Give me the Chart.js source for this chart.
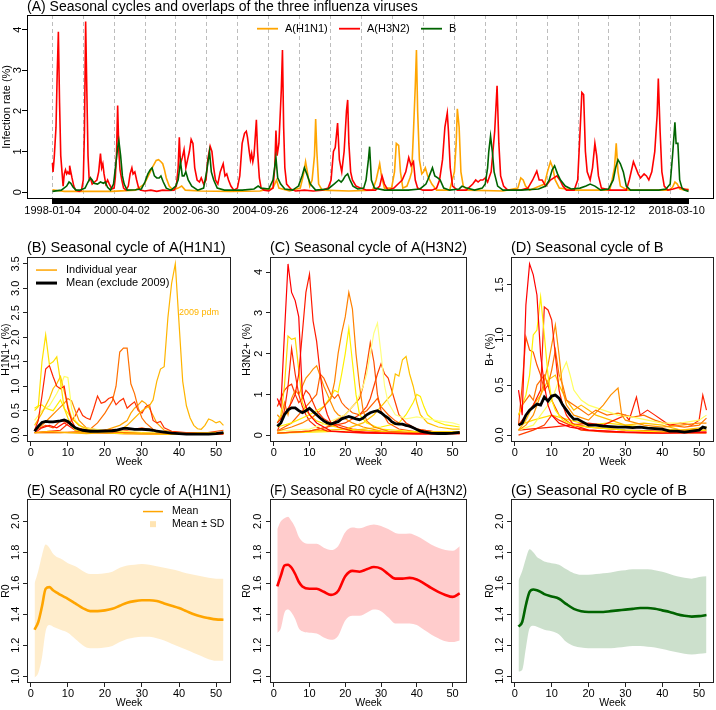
<!DOCTYPE html>
<html><head><meta charset="utf-8">
<script src="https://cdn.jsdelivr.net/npm/chart.js@4.4.1/dist/chart.umd.min.js"></script>
<style>
html,body{margin:0;padding:0;background:#fff;}
#wrap{position:relative;width:716px;height:710px;overflow:hidden;background:#fff;}
canvas{position:absolute;}
</style></head><body>
<div id="wrap">
<canvas id="cA" width="716" height="222" style="left:0px;top:0px"></canvas>
<canvas id="cB" width="238" height="228" style="left:0px;top:240px"></canvas>
<canvas id="cC" width="232" height="228" style="left:241px;top:240px"></canvas>
<canvas id="cD" width="232" height="228" style="left:484px;top:240px"></canvas>
<canvas id="cE" width="238" height="226" style="left:0px;top:483px"></canvas>
<canvas id="cF" width="232" height="226" style="left:241px;top:483px"></canvas>
<canvas id="cG" width="232" height="226" style="left:484px;top:483px"></canvas>
</div>
<script>
// ================= DATA =================
// ---- Panel A: weekly infection rate, [week since 1998-01-04, %] ----
const seriesNamesA = ['A(H1N1)', 'A(H3N2)', 'B'];
const dateLabelsA = ['1998-01-04','2000-04-02','2002-06-30','2004-09-26','2006-12-24','2009-03-22','2011-06-19','2013-09-15','2015-12-12','2018-03-10'];
const yearStartsA = [1998,1999,2000,2001,2002,2003,2004,2005,2006,2007,2008,2009,2010,2011,2012,2013,2014,2015,2016,2017,2018];
const yTicksA = [0,1,2,3,4];
const h1n1A = [[0,0.06],[8,0.04],[20,0.02],[60,0.02],[100,0.02],[140,0.05],[155,0.2],[160,0.35],[165,0.5],[170,0.65],[175,0.78],[179,0.8],[183,0.75],[186,0.7],[189,0.55],[192,0.35],[197,0.15],[203,0.05],[212,0.1],[218,0.15],[224,0.05],[250,0.03],[300,0.02],[350,0.03],[372,0.1],[378,0.3],[382,0.1],[400,0.03],[418,0.1],[423,0.4],[427,0.75],[430,0.5],[434,0.15],[438,0.3],[442,0.9],[444,1.8],[446,1.0],[449,0.2],[455,0.05],[500,0.03],[540,0.05],[546,0.3],[552,0.7],[555,0.4],[560,0.1],[572,0.1],[577,0.5],[580,1.2],[584,1.15],[587,0.5],[591,0.1],[598,0.15],[603,0.35],[606,0.5],[609,1.5],[612,2.6],[614,3.5],[616,2.0],[619,0.8],[623,0.45],[626,0.5],[629,0.6],[633,0.4],[640,0.2],[648,0.05],[670,0.05],[678,0.5],[681,1.2],[683,2.05],[686,1.6],[689,0.5],[693,0.15],[700,0.05],[760,0.03],[785,0.1],[790,0.35],[794,0.3],[798,0.15],[805,0.05],[830,0.2],[835,0.5],[840,0.75],[844,0.6],[848,0.3],[855,0.1],[880,0.05],[940,0.05],[944,0.3],[948,0.6],[951,1.2],[954,0.5],[958,0.15],[970,0.05],[1000,0.05],[1040,0.05],[1046,0.12],[1050,0.25],[1054,0.2],[1058,0.08],[1066,0.05],[1073,0.08]];
const h3n2A = [[0,0.72],[1,0.5],[3,0.85],[6,1.6],[8,2.9],[10,3.95],[12,2.2],[14,0.9],[18,0.15],[20,0.45],[22,0.55],[24,0.45],[26,0.5],[28,0.45],[29,0.65],[31,0.5],[33,0.35],[36,0.15],[39,0.05],[45,0.02],[49,0.05],[52,0.3],[54,1.5],[56,4.2],[58,2.5],[60,0.9],[62,0.3],[64,0.35],[67,0.2],[71,0.25],[75,0.3],[78,0.5],[81,0.95],[83,0.6],[85,0.7],[87,0.45],[90,0.2],[93,0.3],[96,0.2],[100,0.08],[104,0.1],[106,0.35],[108,0.9],[110,2.13],[112,1.0],[114,0.55],[117,0.3],[120,0.1],[124,0.05],[128,0.15],[131,0.45],[134,0.6],[136,0.45],[139,0.5],[142,0.3],[145,0.12],[148,0.05],[156,0.03],[166,0.05],[176,0.02],[186,0.05],[196,0.04],[205,0.05],[209,0.15],[212,0.6],[214,1.35],[216,0.7],[219,0.85],[222,1.05],[225,0.6],[228,0.8],[231,1.0],[234,1.3],[237,1.2],[240,0.6],[244,0.3],[248,0.25],[251,0.35],[255,0.2],[259,0.3],[262,0.8],[266,1.13],[269,1.0],[272,0.6],[275,0.3],[279,0.2],[283,0.5],[288,0.7],[291,0.4],[294,0.45],[297,0.3],[301,0.15],[306,0.05],[312,0.1],[316,0.4],[320,1.2],[324,1.45],[327,1.5],[329,1.35],[332,1.0],[334,0.8],[336,0.95],[338,0.75],[340,0.9],[344,1.78],[346,1.0],[349,0.35],[352,0.1],[357,0.05],[365,0.03],[372,0.1],[375,0.6],[377,1.52],[379,0.9],[382,1.2],[386,2.5],[388,3.5],[390,1.6],[392,0.6],[395,0.2],[402,0.08],[410,0.03],[425,0.05],[440,0.03],[455,0.05],[465,0.1],[470,0.3],[474,1.0],[477,1.1],[481,1.7],[484,0.8],[488,0.5],[492,1.0],[496,2.0],[498,2.27],[500,1.2],[503,0.5],[506,0.3],[512,0.15],[520,0.1],[530,0.05],[545,0.05],[552,0.15],[556,0.4],[560,0.2],[566,0.05],[576,0.1],[583,0.2],[590,0.3],[596,0.5],[601,0.85],[605,0.65],[609,0.75],[612,0.3],[616,0.1],[625,0.05],[640,0.05],[648,0.1],[653,0.3],[658,0.8],[662,1.6],[666,1.95],[668,1.5],[671,0.6],[675,0.15],[683,0.05],[698,0.05],[709,0.2],[714,0.3],[718,0.25],[722,0.3],[726,0.3],[730,0.35],[734,0.25],[740,0.5],[746,1.5],[750,2.62],[753,1.2],[756,0.4],[761,0.15],[768,0.05],[790,0.05],[802,0.1],[810,0.3],[817,0.52],[821,0.3],[826,0.3],[832,0.15],[840,0.3],[851,0.4],[856,0.3],[861,0.15],[867,0.05],[880,0.05],[886,0.3],[890,1.5],[893,2.45],[896,2.4],[899,1.0],[902,0.5],[907,0.3],[911,0.6],[915,1.2],[918,0.9],[921,0.4],[926,0.1],[940,0.05],[955,0.05],[968,0.05],[973,0.3],[980,0.75],[984,0.6],[988,0.45],[992,0.35],[998,0.45],[1002,0.4],[1006,0.3],[1011,0.5],[1016,1.0],[1020,1.9],[1022,2.8],[1025,1.5],[1028,0.5],[1032,0.15],[1038,0.05],[1047,0.08],[1057,0.12],[1066,0.08],[1073,0.05]];
const fluBA = [[0,0.02],[15,0.05],[24,0.15],[28,0.25],[31,0.22],[35,0.12],[40,0.05],[46,0.05],[55,0.1],[60,0.25],[64,0.35],[67,0.3],[70,0.22],[76,0.2],[81,0.25],[86,0.22],[89,0.25],[93,0.12],[98,0.05],[103,0.2],[107,0.7],[110,1.1],[112,1.27],[115,0.9],[118,0.4],[121,0.2],[126,0.05],[140,0.06],[150,0.08],[156,0.25],[161,0.45],[165,0.55],[168,0.6],[172,0.4],[176,0.35],[180,0.35],[183,0.4],[187,0.25],[192,0.1],[200,0.05],[208,0.15],[212,0.3],[216,0.75],[219,0.4],[222,0.4],[225,0.5],[229,0.3],[235,0.15],[245,0.05],[255,0.1],[260,0.5],[265,1.0],[268,0.5],[272,0.3],[278,0.1],[290,0.05],[320,0.05],[340,0.08],[347,0.15],[352,0.1],[365,0.08],[372,0.3],[377,0.85],[380,0.35],[385,0.2],[392,0.08],[405,0.05],[415,0.15],[421,0.4],[425,0.6],[429,0.45],[435,0.2],[444,0.05],[465,0.08],[475,0.2],[483,0.3],[487,0.25],[490,0.3],[494,0.4],[498,0.45],[502,0.3],[507,0.15],[515,0.08],[525,0.1],[529,0.3],[533,0.8],[535,1.12],[538,0.3],[543,0.1],[560,0.05],[600,0.05],[620,0.08],[630,0.2],[633,0.3],[637,0.45],[641,0.6],[645,0.4],[650,0.35],[654,0.3],[660,0.1],[670,0.05],[686,0.08],[691,0.15],[699,0.1],[712,0.05],[725,0.1],[730,0.2],[734,0.6],[736,1.0],[739,1.38],[742,1.0],[745,0.5],[751,0.15],[760,0.05],[790,0.05],[820,0.08],[832,0.15],[838,0.3],[843,0.55],[847,0.65],[852,0.45],[857,0.3],[865,0.15],[875,0.08],[890,0.1],[900,0.15],[907,0.2],[915,0.15],[925,0.05],[938,0.08],[946,0.3],[950,0.6],[954,0.8],[958,0.7],[963,0.5],[968,0.15],[975,0.05],[990,0.05],[1010,0.05],[1023,0.05],[1035,0.08],[1042,0.2],[1046,0.9],[1050,1.72],[1052,1.2],[1055,1.2],[1058,0.3],[1062,0.1],[1066,0.05],[1073,0.02]];

// ---- Seasonal panels: common ----
const weekTicks = [0,10,20,30,40,50];
const weekAxisTitle = 'Week';

// ---- Panel B: A(H1N1) by year, [week, %] ----
const legendLabelsB = ['Individual year', 'Mean (exclude 2009)'];
const pdmNoteB = {text:'2009 pdm', week:40, value:2.5};
const yTicksB = [0,0.5,1,1.5,2,2.5,3,3.5];
const h1n1YearsB = [
 [[1,0.05],[5,0.08],[10,0.05],[15,0.03],[20,0.05],[24,0.1],[26,0.2],[28,0.35],[30,0.5],[32,0.6],[33,0.72],[34,1.1],[35,1.35],[36,1.4],[37,2.4],[38,3.1],[39,3.5],[40,2.3],[41,1.1],[42,0.6],[43,0.35],[44,0.2],[45,0.13],[46,0.12],[47,0.2],[48,0.33],[49,0.3],[50,0.25],[51,0.28],[52,0.2]],
 [[1,0.5],[2,0.58],[3,1.5],[4,2.05],[5,1.45],[6,1.5],[7,1.6],[8,1.1],[9,0.55],[10,0.35],[11,0.2],[12,0.1],[14,0.08],[18,0.05],[25,0.03],[35,0.02],[45,0.02],[52,0.05]],
 [[1,0.1],[2,0.3],[3,0.8],[4,1.35],[5,1.42],[6,1.2],[7,1.0],[8,0.95],[9,1.0],[10,0.55],[11,0.3],[12,0.15],[14,0.08],[20,0.05],[30,0.03],[40,0.02],[52,0.03]],
 [[1,0.2],[3,0.45],[5,0.75],[6,0.95],[7,1.05],[8,1.2],[9,0.9],[10,0.6],[11,0.35],[13,0.2],[16,0.1],[25,0.05],[40,0.02],[52,0.05]],
 [[1,0.3],[3,0.5],[5,0.6],[7,0.85],[8,1.0],[9,1.2],[10,1.18],[11,0.55],[12,0.3],[14,0.15],[20,0.1],[30,0.05],[45,0.03],[52,0.05]],
 [[1,0.1],[3,0.2],[5,0.35],[7,0.5],[9,0.65],[10,0.75],[11,0.7],[12,0.5],[13,0.3],[15,0.15],[20,0.08],[30,0.05],[45,0.02],[52,0.04]],
 [[1,0.05],[8,0.05],[14,0.08],[16,0.12],[18,0.25],[20,0.45],[22,0.7],[23,1.0],[24,1.7],[25,1.78],[26,1.78],[27,1.05],[28,0.85],[29,0.55],[30,0.35],[31,0.25],[33,0.12],[36,0.05],[45,0.02],[52,0.03]],
 [[1,0.05],[8,0.1],[11,0.3],[12,0.4],[13,0.55],[14,0.4],[15,0.35],[16,0.32],[17,0.55],[18,0.8],[19,0.65],[20,0.68],[21,0.75],[22,0.78],[23,0.62],[24,0.7],[25,0.75],[26,0.55],[27,0.62],[28,0.68],[29,0.5],[30,0.45],[31,0.58],[32,0.62],[33,0.3],[34,0.25],[35,0.28],[36,0.15],[38,0.08],[45,0.03],[52,0.05]],
 [[1,0.05],[15,0.05],[20,0.1],[24,0.2],[26,0.3],[27,0.45],[28,0.55],[29,0.62],[30,0.7],[31,0.65],[32,0.55],[33,0.4],[34,0.25],[36,0.1],[40,0.05],[52,0.05]],
 [[1,0.05],[3,0.15],[5,0.2],[7,0.15],[9,0.25],[10,0.2],[12,0.1],[15,0.05],[25,0.03],[40,0.02],[52,0.02]],
 [[1,0.55],[2,0.6],[3,0.62],[4,0.55],[6,0.5],[8,0.72],[9,0.55],[11,0.35],[13,0.2],[16,0.1],[25,0.05],[40,0.02],[52,0.03]],
 [[1,0.1],[4,0.2],[6,0.15],[8,0.3],[10,0.25],[12,0.15],[15,0.12],[18,0.1],[22,0.12],[26,0.1],[30,0.15],[33,0.1],[36,0.05],[45,0.02],[52,0.1]]
];
const h1n1MeanB = [[1,0.08],[2,0.18],[3,0.26],[4,0.28],[5,0.27],[6,0.27],[7,0.28],[8,0.29],[9,0.31],[10,0.28],[11,0.21],[12,0.15],[13,0.12],[14,0.1],[15,0.09],[16,0.08],[18,0.08],[20,0.085],[22,0.09],[23,0.1],[24,0.12],[25,0.14],[26,0.14],[27,0.13],[28,0.12],[30,0.12],[32,0.11],[33,0.1],[34,0.08],[36,0.06],[38,0.04],[40,0.03],[42,0.02],[45,0.02],[48,0.02],[50,0.03],[51,0.04],[52,0.05]];

// ---- Panel C: A(H3N2) by year ----
const yTicksC = [0,1,2,3,4];
const h3n2YearsC = [
 [[1,0.9],[2,0.7],[3,2.5],[4,4.2],[5,3.5],[6,3.3],[7,2.9],[8,1.0],[9,0.7],[10,0.5],[11,0.4],[12,0.3],[14,0.2],[16,0.1],[20,0.08],[30,0.05],[40,0.03],[52,0.05]],
 [[1,0.3],[3,0.5],[5,0.8],[6,1.0],[7,1.5],[8,2.5],[9,3.5],[10,3.95],[11,2.8],[12,2.3],[13,1.5],[14,0.8],[15,0.5],[16,0.3],[18,0.2],[22,0.1],[30,0.05],[45,0.03],[52,0.05]],
 [[1,0.1],[5,0.2],[8,0.3],[11,0.45],[13,0.6],[15,0.8],[16,0.9],[17,1.3],[18,2.0],[19,2.5],[20,2.9],[21,3.5],[22,3.1],[23,2.0],[24,1.2],[25,0.6],[26,0.35],[28,0.2],[32,0.1],[40,0.05],[52,0.05]],
 [[1,0.2],[5,0.3],[10,0.5],[14,0.7],[16,0.95],[17,1.1],[18,1.05],[19,1.5],[20,2.0],[21,2.62],[22,1.8],[23,1.0],[24,0.5],[26,0.3],[30,0.15],[40,0.08],[52,0.08]],
 [[1,0.1],[10,0.15],[15,0.3],[20,0.5],[23,0.8],[25,1.2],[26,1.5],[27,2.0],[28,2.5],[29,2.75],[30,2.0],[31,1.2],[32,0.8],[34,0.5],[37,0.4],[40,0.45],[43,0.4],[46,0.35],[50,0.3],[52,0.25]],
 [[1,0.05],[10,0.1],[15,0.2],[18,0.4],[20,0.5],[22,0.7],[24,0.9],[25,1.2],[26,1.7],[27,2.27],[28,1.8],[29,1.0],[30,0.6],[32,0.3],[35,0.15],[40,0.08],[52,0.05]],
 [[1,0.3],[2,0.5],[3,1.2],[4,2.43],[5,2.35],[6,2.38],[7,1.6],[8,0.8],[9,0.6],[10,0.5],[12,0.35],[15,0.25],[20,0.15],[30,0.1],[40,0.05],[52,0.05]],
 [[1,0.1],[2,0.3],[3,0.6],[4,1.2],[5,2.12],[6,1.5],[7,1.0],[8,0.7],[9,0.5],[10,0.35],[12,0.2],[15,0.1],[25,0.05],[40,0.03],[52,0.03]],
 [[1,0.05],[10,0.1],[20,0.15],[25,0.3],[28,0.5],[30,0.7],[32,0.9],[33,1.0],[34,1.5],[35,1.45],[36,1.85],[37,1.93],[38,1.5],[39,1.2],[40,0.8],[41,0.5],[43,0.3],[46,0.2],[50,0.15],[52,0.15]],
 [[1,0.5],[2,0.4],[3,0.8],[4,0.5],[5,0.9],[6,1.1],[7,1.0],[8,1.2],[9,1.4],[10,1.5],[11,1.62],[12,1.7],[13,1.45],[14,1.2],[15,1.0],[16,0.8],[17,0.6],[18,0.5],[20,0.4],[22,0.3],[25,0.2],[30,0.1],[40,0.05],[52,0.05]],
 [[1,0.05],[10,0.1],[15,0.2],[20,0.3],[24,0.5],[26,0.7],[27,0.9],[28,1.2],[29,1.5],[30,1.75],[31,1.5],[32,1.4],[33,1.1],[34,0.8],[35,0.5],[37,0.3],[40,0.15],[45,0.08],[52,0.05]],
 [[1,0.7],[2,0.9],[3,1.1],[4,1.2],[5,1.25],[6,1.0],[7,0.8],[8,0.9],[9,1.1],[10,1.0],[11,0.8],[12,0.6],[13,0.5],[14,0.4],[16,0.3],[18,0.25],[22,0.15],[30,0.08],[40,0.05],[52,0.05]],
 [[1,0.1],[5,0.3],[8,0.6],[10,0.8],[12,1.0],[13,1.5],[14,1.4],[15,1.2],[16,1.0],[17,0.9],[18,1.0],[19,0.8],[20,0.7],[22,0.55],[24,0.5],[26,0.6],[28,0.8],[29,0.9],[30,0.7],[32,0.5],[34,0.35],[36,0.25],[40,0.15],[45,0.08],[52,0.08]],
 [[1,0.05],[20,0.1],[30,0.2],[35,0.3],[37,0.5],[39,0.8],[40,1.0],[41,0.95],[42,0.7],[43,0.5],[45,0.35],[48,0.25],[52,0.2]]
];
const h3n2MeanC = [[1,0.22],[2,0.3],[3,0.5],[4,0.62],[5,0.67],[6,0.67],[7,0.6],[8,0.55],[9,0.6],[10,0.66],[11,0.58],[12,0.5],[13,0.42],[14,0.35],[15,0.3],[16,0.27],[17,0.3],[18,0.33],[19,0.4],[20,0.43],[21,0.46],[22,0.43],[23,0.4],[24,0.38],[25,0.42],[26,0.5],[27,0.55],[28,0.58],[29,0.6],[30,0.55],[31,0.48],[32,0.42],[33,0.33],[34,0.28],[35,0.27],[36,0.27],[37,0.24],[38,0.22],[39,0.18],[40,0.14],[41,0.1],[42,0.08],[44,0.05],[46,0.04],[48,0.04],[50,0.05],[52,0.07]];

// ---- Panel D: B by year ----
const yTicksD = [0,0.5,1,1.5];
const fluBYearsD = [
 [[1,0.45],[2,0.2],[3,1.3],[4,1.71],[5,1.6],[6,1.4],[7,0.8],[8,0.5],[9,0.3],[10,0.2],[12,0.12],[15,0.08],[20,0.05],[30,0.03],[40,0.02],[52,0.03]],
 [[1,0.2],[3,0.4],[4,0.6],[5,1.0],[6,1.05],[7,1.38],[8,1.0],[9,0.6],[10,0.35],[11,0.25],[13,0.15],[16,0.1],[20,0.08],[30,0.05],[40,0.03],[52,0.05]],
 [[1,0.1],[3,0.2],[5,0.3],[7,0.45],[8,1.28],[9,1.25],[10,1.15],[11,0.8],[12,0.45],[13,0.3],[14,0.2],[16,0.1],[20,0.05],[30,0.03],[52,0.03]],
 [[1,0.05],[3,0.1],[5,0.2],[7,0.4],[8,0.55],[9,0.7],[10,0.9],[11,1.1],[12,0.8],[13,0.45],[14,0.3],[16,0.2],[20,0.15],[24,0.3],[26,0.4],[28,0.47],[29,0.2],[30,0.15],[35,0.1],[40,0.08],[45,0.1],[50,0.12],[52,0.12]],
 [[1,0.1],[2,0.5],[3,0.98],[4,0.85],[5,0.83],[6,0.7],[7,0.6],[8,0.45],[9,0.5],[10,0.35],[12,0.2],[15,0.12],[20,0.08],[30,0.05],[40,0.04],[52,0.05]],
 [[1,0.05],[5,0.1],[8,0.25],[10,0.35],[12,0.55],[13,0.65],[14,0.73],[15,0.6],[16,0.45],[18,0.35],[20,0.3],[24,0.25],[28,0.2],[32,0.18],[36,0.15],[40,0.12],[45,0.12],[50,0.15],[52,0.2]],
 [[1,0.05],[10,0.08],[15,0.1],[20,0.12],[24,0.1],[27,0.15],[30,0.2],[31,0.15],[33,0.38],[34,0.2],[36,0.25],[38,0.2],[40,0.15],[42,0.1],[45,0.12],[48,0.1],[50,0.15],[51,0.4],[52,0.25]],
 [[1,0.2],[2,0.3],[4,0.4],[5,0.35],[6,0.5],[7,0.55],[8,0.6],[9,0.5],[10,0.65],[11,0.85],[12,0.6],[13,0.5],[14,0.35],[16,0.3],[18,0.25],[20,0.2],[22,0.25],[25,0.2],[28,0.22],[32,0.18],[35,0.2],[38,0.15],[42,0.1],[46,0.08],[50,0.1],[52,0.17]],
 [[1,0.05],[3,0.15],[5,0.3],[7,0.4],[9,0.55],[11,0.6],[12,0.5],[14,0.35],[16,0.25],[18,0.3],[20,0.25],[22,0.2],[26,0.15],[30,0.1],[35,0.12],[40,0.1],[45,0.05],[52,0.08]],
 [[1,0.0],[5,0.05],[8,0.1],[10,0.2],[12,0.15],[15,0.1],[18,0.05],[25,0.03],[35,0.02],[52,0.02]],
 [[1,0.1],[5,0.15],[10,0.2],[15,0.15],[20,0.1],[25,0.12],[30,0.1],[35,0.08],[40,0.06],[45,0.05],[50,0.06],[52,0.08]]
];
const fluBMeanD = [[1,0.1],[2,0.12],[3,0.2],[4,0.25],[5,0.28],[6,0.31],[7,0.3],[8,0.38],[9,0.34],[10,0.39],[11,0.4],[12,0.37],[13,0.3],[14,0.25],[15,0.2],[16,0.16],[17,0.16],[18,0.14],[19,0.12],[20,0.1],[22,0.1],[24,0.09],[26,0.085],[28,0.08],[30,0.08],[32,0.075],[34,0.08],[36,0.07],[38,0.065],[40,0.06],[42,0.04],[44,0.04],[46,0.03],[48,0.04],[50,0.05],[51,0.08],[52,0.07]];

// ---- Panels E-G: seasonal R0 ----
const legendLabelsE = ['Mean', 'Mean \u00b1 SD'];
const yTicksR0 = [1.0,1.2,1.4,1.6,1.8,2.0];
const weeksR0 = [1,2,3,4,5,6,7,8,10,12,14,16,18,20,22,24,26,28,30,32,34,36,38,40,42,44,46,48,50,52];
const h1n1R0Mean = [1.30,1.35,1.45,1.565,1.575,1.555,1.54,1.525,1.50,1.47,1.44,1.42,1.42,1.425,1.435,1.455,1.475,1.485,1.49,1.49,1.485,1.47,1.455,1.44,1.42,1.40,1.385,1.375,1.367,1.365];
const h1n1R0Upper = [1.60,1.68,1.78,1.85,1.83,1.79,1.77,1.76,1.73,1.71,1.68,1.66,1.66,1.665,1.675,1.70,1.715,1.72,1.725,1.72,1.71,1.70,1.69,1.68,1.665,1.655,1.645,1.635,1.63,1.63];
const h1n1R0Lower = [0.99,1.02,1.12,1.29,1.33,1.32,1.31,1.30,1.28,1.24,1.20,1.18,1.18,1.185,1.195,1.22,1.24,1.25,1.255,1.255,1.245,1.23,1.21,1.19,1.17,1.15,1.13,1.11,1.10,1.10];
const h3n2R0Mean = [1.58,1.65,1.715,1.72,1.70,1.66,1.61,1.58,1.565,1.565,1.545,1.525,1.55,1.645,1.68,1.675,1.69,1.705,1.695,1.66,1.63,1.63,1.635,1.625,1.60,1.57,1.545,1.525,1.512,1.535];
const h3n2R0Upper = [1.95,2.0,2.02,2.03,2.0,1.96,1.90,1.87,1.855,1.855,1.83,1.815,1.84,1.93,1.96,1.955,1.97,1.98,1.97,1.95,1.925,1.92,1.922,1.905,1.88,1.85,1.83,1.815,1.81,1.84];
const h3n2R0Lower = [1.28,1.31,1.41,1.43,1.41,1.37,1.31,1.29,1.28,1.275,1.25,1.235,1.26,1.36,1.39,1.39,1.41,1.43,1.42,1.38,1.34,1.34,1.34,1.33,1.30,1.27,1.245,1.225,1.22,1.23];
const fluBR0Mean = [1.32,1.35,1.46,1.545,1.56,1.555,1.545,1.53,1.515,1.50,1.465,1.435,1.42,1.415,1.415,1.415,1.42,1.425,1.43,1.435,1.44,1.44,1.435,1.425,1.415,1.40,1.39,1.385,1.388,1.395];
const fluBR0Upper = [1.62,1.68,1.76,1.82,1.80,1.77,1.755,1.74,1.73,1.72,1.69,1.665,1.655,1.655,1.66,1.665,1.67,1.68,1.685,1.69,1.69,1.69,1.685,1.675,1.66,1.645,1.635,1.63,1.64,1.645];
const fluBR0Lower = [1.03,1.04,1.18,1.31,1.325,1.32,1.31,1.30,1.29,1.27,1.22,1.195,1.185,1.18,1.18,1.18,1.18,1.185,1.19,1.195,1.195,1.19,1.185,1.175,1.165,1.155,1.145,1.14,1.145,1.15];

// ================= STYLE / BUILD =================
const FONT = "'Liberation Sans', Arial, Helvetica, sans-serif";
const paletteB = ['#FFB400','#FFE000','#FF2000','#FFC000','#FFFF60','#FF8C00','#FF7000','#FF3000','#FFA500','#FF1000','#FFF000','#FF5000'];
const paletteC = ['#FF0000','#FF1A00','#FF8000','#FFF000','#FFFF80','#FF5000','#FFD700','#FF2800','#FFC000','#FF9000','#FF4000','#FF3300','#FF6000','#FFEE00'];
const paletteD = ['#FF0000','#FFF000','#FF1E00','#FF9000','#FF5000','#FFFF60','#FF2000','#FF7000','#FFC000','#FF4000','#FFE000'];

const toXY = arr => arr.map(p => ({x: p[0], y: p[1]}));

function framePlugin(color) {
  return { id: 'frame', afterDatasetsDraw(chart) {
    const a = chart.chartArea, ctx = chart.ctx;
    const l = Math.round(a.left) + 0.5, t = Math.round(a.top) + 0.5;
    const r = Math.round(a.right) - 0.5, b = Math.round(a.bottom) - 0.5;
    ctx.save(); ctx.strokeStyle = color; ctx.lineWidth = 1;
    ctx.strokeRect(l, t, r - l, b - t); ctx.restore();
  }};
}
function legendPlugin(items, o) {
  return { id: 'insideLegend', afterDatasetsDraw(chart) {
    const a = chart.chartArea, ctx = chart.ctx;
    ctx.save();
    ctx.font = o.size + 'px ' + FONT; ctx.textBaseline = 'middle'; ctx.textAlign = 'left';
    items.forEach((it, i) => {
      const x = a.left + o.x + (o.dx || 0) * i;
      const y = a.top + o.y + (o.dy || 0) * i;
      if (it.kind === 'square') {
        ctx.fillStyle = it.color;
        ctx.fillRect(x + o.len / 2 - o.box / 2, y - o.box / 2, o.box, o.box);
      } else {
        ctx.strokeStyle = it.color; ctx.lineWidth = it.width;
        ctx.beginPath(); ctx.moveTo(x, y); ctx.lineTo(x + o.len, y); ctx.stroke();
      }
      ctx.fillStyle = '#000';
      ctx.fillText(it.text, x + o.len + o.gap, y);
    });
    ctx.restore();
  }};
}
function notePlugin(note, color, size) {
  return { id: 'note', afterDatasetsDraw(chart) {
    const ctx = chart.ctx;
    const x = chart.scales.x.getPixelForValue(note.week);
    const y = chart.scales.y.getPixelForValue(note.value);
    ctx.save(); ctx.font = size + 'px ' + FONT; ctx.fillStyle = color;
    ctx.textAlign = 'left'; ctx.textBaseline = 'middle';
    ctx.fillText(note.text, x, y); ctx.restore();
  }};
}

const tickFont = {family: FONT, size: 11};
const axisTitleFont = {family: FONT, size: 10.5};

// ---------- Panel A ----------
(function () {
  const weekMs = 7 * 864e5;
  const origin = Date.parse(dateLabelsA[0]);
  const labelWeeks = dateLabelsA.map(s => Math.round((Date.parse(s) - origin) / weekMs));
  const yearWeeks = yearStartsA.map(y => (Date.UTC(y, 0, 1) - origin) / weekMs);
  const lastWeek = Math.max(...h3n2A.map(p => p[0]));
  const allWeeks = [];
  for (let w = 0; w <= lastWeek; w++) allWeeks.push(w);
  const span = lastWeek * 0.04;
  const colorsA = ['#FFA500', '#FF0000', '#006400'];
  const seriesA = [h1n1A, h3n2A, fluBA];
  const ymaxA = 4.2 * 1.04, yminA = -4.2 * 0.04;
  new Chart(document.getElementById('cA'), {
    type: 'line',
    data: { datasets: seriesA.map((s, i) => ({
      label: seriesNamesA[i], data: toXY(s), borderColor: colorsA[i], borderWidth: 1.6,
      pointRadius: 0, fill: false, tension: 0, order: 3 - i })) },
    options: {
      responsive: false, animation: false, events: [],
      layout: { padding: { left: 0, right: 2, top: 0, bottom: 0 } },
      plugins: {
        legend: { display: false }, tooltip: { enabled: false },
        title: { display: true, text: '(A) Seasonal cycles and overlaps of the three influenza viruses',
          align: 'start', fullSize: false, color: '#000',
          font: { family: FONT, size: 14, weight: 'normal', lineHeight: 1.05 }, padding: { top: 0, bottom: 0 } }
      },
      scales: {
        x: { type: 'linear', bounds: 'data', position: 'bottom', min: -span, max: lastWeek + span,
          afterBuildTicks: s => { s.ticks = allWeeks.map(v => ({ value: v })); },
          afterFit: s => { s.height = 23; },
          grid: { display: true, drawOnChartArea: false, drawTicks: true, tickLength: 5, color: '#000', lineWidth: 1 },
          border: { display: false },
          ticks: { autoSkip: false, maxRotation: 0, minRotation: 0, padding: 0, color: '#000',
            font: { family: FONT, size: 11 },
            callback: v => { const i = labelWeeks.indexOf(v); return i >= 0 ? dateLabelsA[i] : ''; } } },
        xYear: { type: 'linear', bounds: 'data', position: 'top', min: -span, max: lastWeek + span,
          afterBuildTicks: s => { s.ticks = yearWeeks.map(v => ({ value: v })); },
          afterFit: s => { s.height = 0; },
          grid: { display: true, drawOnChartArea: true, drawTicks: false, color: '#BDBDBD', lineWidth: 1, borderDash: [4, 3] },
          border: { display: false, dash: [4, 3] },
          ticks: { display: false } },
        y: { type: 'linear', bounds: 'data', min: yminA, max: ymaxA,
          afterBuildTicks: s => { s.ticks = yTicksA.map(v => ({ value: v })); },
          afterFit: s => { s.width = 27; },
          grid: { display: true, drawOnChartArea: false, drawTicks: true, tickLength: 5, color: '#000', lineWidth: 1 },
          border: { display: false },
          ticks: { autoSkip: false, minRotation: 90, maxRotation: 90, crossAlign: 'center', padding: 0.6,
            color: '#000', font: { family: FONT, size: 11 }, callback: v => String(v) },
          title: { display: true, text: 'Infection rate (%)', color: '#000', font: { family: FONT, size: 11 }, padding: { top: 0, bottom: 0 } } }
      }
    },
    plugins: [framePlugin('#000'),
      legendPlugin(seriesNamesA.map((t, i) => ({ text: t, color: colorsA[i], width: 1.8 })),
        { x: 230, y: 14, dx: 82, len: 21, gap: 7, size: 11 })]
  });
})();

// ---------- Seasonal panels ----------
function seasonalChart(id, cfg) {
  const pad = (cfg.yMax - cfg.yMin) * 0.04;
  return new Chart(document.getElementById(id), {
    type: 'line',
    data: { datasets: cfg.datasets },
    options: {
      responsive: false, animation: false, events: [],
      layout: { padding: { left: 0, right: cfg.padR, top: 0, bottom: 0 } },
      plugins: {
        legend: { display: false }, tooltip: { enabled: false },
        title: { display: true, text: cfg.title, align: 'start', fullSize: false, color: '#000',
          font: { family: FONT, size: 14.6, weight: 'normal', lineHeight: 1.1 }, padding: { top: 0, bottom: cfg.titlePadB } }
      },
      scales: {
        x: { type: 'linear', bounds: 'data', min: 1 - 51 * 0.04, max: 52 + 51 * 0.04,
          afterBuildTicks: s => { s.ticks = weekTicks.map(v => ({ value: v })); },
          afterFit: s => { s.height = cfg.xH; },
          grid: { display: true, drawOnChartArea: false, drawTicks: true, tickLength: 4, color: '#222', lineWidth: 1 },
          border: { display: false },
          ticks: { autoSkip: false, maxRotation: 0, minRotation: 0, padding: 0.4, color: '#000', font: tickFont },
          title: { display: true, text: weekAxisTitle, color: '#000', font: axisTitleFont, padding: { top: 0, bottom: 0 } } },
        y: { type: 'linear', bounds: 'data', min: cfg.yMin - pad, max: cfg.yMax + pad,
          afterBuildTicks: s => { s.ticks = cfg.yTicks.map(v => ({ value: v })); },
          afterFit: s => { s.width = cfg.yW; },
          grid: { display: true, drawOnChartArea: false, drawTicks: true, tickLength: 4, color: '#222', lineWidth: 1 },
          border: { display: false },
          ticks: { autoSkip: false, minRotation: 90, maxRotation: 90, crossAlign: 'center', padding: cfg.yPad,
            color: '#000', font: tickFont, callback: cfg.fmt },
          title: { display: true, text: cfg.yTitle, color: '#000', font: axisTitleFont, padding: { top: 0, bottom: 0 } } }
      }
    },
    plugins: [framePlugin('#222')].concat(cfg.extra || [])
  });
}
const fmt1 = v => v.toFixed(1);
const fmt0 = v => String(v);

function yearDatasets(years, mean, palette, meanLabel) {
  const ds = [{ label: meanLabel, data: toXY(mean), borderColor: '#000', borderWidth: 2.8, pointRadius: 0, fill: false, order: 0 }];
  years.forEach((y, i) => ds.push({ label: 'year ' + (i + 1), data: toXY(y), borderColor: palette[i % palette.length],
    borderWidth: 1.2, pointRadius: 0, fill: false, order: 1 }));
  return ds;
}
function r0Datasets(mean, up, lo, lineColor, bandColor) {
  const xy = arr => weeksR0.map((w, i) => ({ x: w, y: arr[i] }));
  return [
    { label: legendLabelsE[0], data: xy(mean), borderColor: lineColor, borderWidth: 2.6, pointRadius: 0, fill: false, cubicInterpolationMode: 'monotone', order: 0 },
    { label: legendLabelsE[1], data: xy(up), borderColor: 'rgba(0,0,0,0)', borderWidth: 0, backgroundColor: bandColor, pointRadius: 0, fill: '+1', cubicInterpolationMode: 'monotone', order: 1 },
    { label: 'lower', data: xy(lo), borderColor: 'rgba(0,0,0,0)', borderWidth: 0, pointRadius: 0, fill: false, cubicInterpolationMode: 'monotone', order: 1 }
  ];
}
const maxOf = (years) => Math.max(...years.map(y => Math.max(...y.map(p => p[1]))));

seasonalChart('cB', {
  title: '(B) Seasonal cycle of A(H1N1)', yTitle: 'H1N1+ (%)', yTicks: yTicksB, fmt: fmt1,
  yMin: 0, yMax: maxOf(h1n1YearsB), yW: 27, yPad: -0.6, padR: 7, xH: 26, titlePadB: 1,
  datasets: yearDatasets(h1n1YearsB, h1n1MeanB, paletteB, legendLabelsB[1]),
  extra: [notePlugin(pdmNoteB, '#FFB400', 9),
    legendPlugin([{ text: legendLabelsB[0], color: '#FFA500', width: 1.5 }, { text: legendLabelsB[1], color: '#000', width: 3 }],
      { x: 9, y: 13, dy: 13, len: 21, gap: 9, size: 11 })]
});
seasonalChart('cC', {
  title: '(C) Seasonal cycle of A(H3N2)', yTitle: 'H3N2+ (%)', yTicks: yTicksC, fmt: fmt0,
  yMin: 0, yMax: maxOf(h3n2YearsC), yW: 29, yPad: 3.9, padR: 6, xH: 26, titlePadB: 1,
  datasets: yearDatasets(h3n2YearsC, h3n2MeanC, paletteC, 'Mean')
});
seasonalChart('cD', {
  title: '(D) Seasonal cycle of B', yTitle: 'B+ (%)', yTicks: yTicksD, fmt: fmt1,
  yMin: 0, yMax: maxOf(fluBYearsD), yW: 27, yPad: -0.6, padR: 2, xH: 26, titlePadB: 1,
  datasets: yearDatasets(fluBYearsD, fluBMeanD, paletteD, 'Mean')
});
seasonalChart('cE', {
  title: '(E) Seasonal R0 cycle of A(H1N1)', yTitle: 'R0', yTicks: yTicksR0, fmt: fmt1,
  yMin: 1.0, yMax: 2.1, yW: 27, yPad: -0.6, padR: 7, xH: 26, titlePadB: 0,
  datasets: r0Datasets(h1n1R0Mean, h1n1R0Upper, h1n1R0Lower, '#FFA500', 'rgba(255,165,0,0.2)'),
  extra: [legendPlugin([{ text: legendLabelsE[0], color: '#FFA500', width: 1.5 }, { text: legendLabelsE[1], color: 'rgba(255,165,0,0.3)', kind: 'square' }],
    { x: 116, y: 12.5, dy: 12.6, len: 20, gap: 9, size: 10.5, box: 6 })]
});
seasonalChart('cF', {
  title: '(F) Seasonal R0 cycle of A(H3N2)', yTitle: 'R0', yTicks: yTicksR0, fmt: fmt1,
  yMin: 1.0, yMax: 2.1, yW: 29, yPad: 0.5, padR: 6, xH: 26, titlePadB: 0,
  datasets: r0Datasets(h3n2R0Mean, h3n2R0Upper, h3n2R0Lower, '#FF0000', 'rgba(255,0,0,0.2)')
});
seasonalChart('cG', {
  title: '(G) Seasonal R0 cycle of B', yTitle: 'R0', yTicks: yTicksR0, fmt: fmt1,
  yMin: 1.0, yMax: 2.1, yW: 27, yPad: -0.6, padR: 2, xH: 26, titlePadB: 0,
  datasets: r0Datasets(fluBR0Mean, fluBR0Upper, fluBR0Lower, '#006400', 'rgba(0,100,0,0.2)')
});
</script>
</body></html>
